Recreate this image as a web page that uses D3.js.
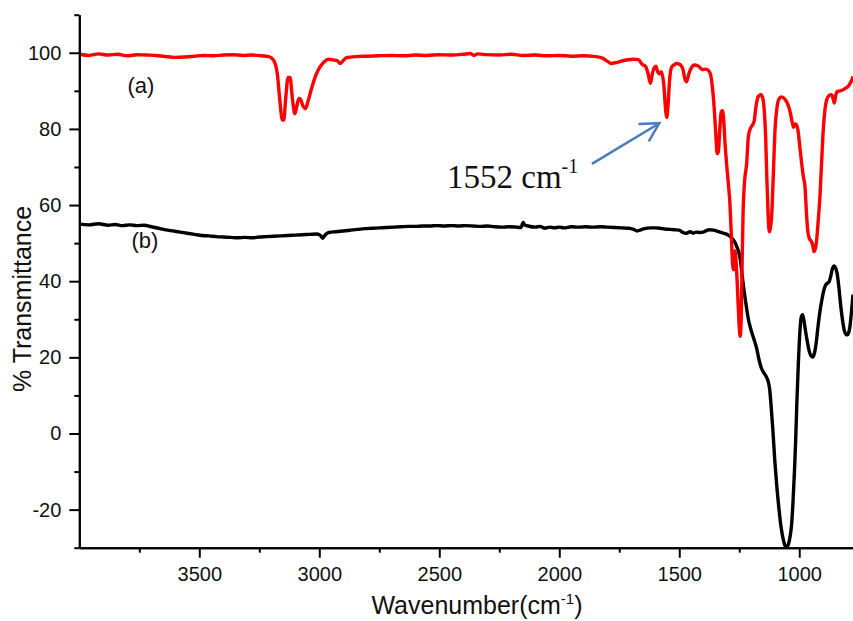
<!DOCTYPE html>
<html>
<head>
<meta charset="utf-8">
<script src="https://cdn.jsdelivr.net/npm/d3@7"></script>
<style>
  html, body { margin: 0; padding: 0; background: #fff; }
  svg { display: block; }
  .tick text { font-family: "Liberation Sans", Arial, sans-serif; }
</style>
</head>
<body>
<svg id="chart" width="853" height="621"></svg>
<script>
// FTIR spectra: wavenumber (cm-1) and % transmittance for samples (a) and (b)
const waveA = [4000,3960,3920,3880,3840,3800,3760,3720,3680,3640,3600,3560,3520,3480,3440,3400,3360,3320,3280,3240,3210,3190,3175,3165,3155,3148,3140,3130,3122,3112,3102,3095,3085,3078,3068,3058,3048,3035,3015,2997,2980,2962,2940,2925,2912,2900,2886,2850,2800,2750,2700,2650,2600,2550,2500,2450,2400,2370,2355,2340,2300,2250,2200,2150,2100,2050,2000,1950,1900,1850,1820,1800,1785,1765,1748,1720,1690,1670,1655,1640,1630,1620,1612,1605,1597,1590,1582,1575,1565,1556,1552,1547,1540,1532,1520,1511,1495,1484,1476,1469,1460,1448,1439,1421,1404,1390,1378,1370,1362,1355,1348,1342,1337,1331,1325,1320,1315,1309,1303,1296,1289,1283,1278,1274,1268,1262,1256,1250,1246,1242,1238,1234,1228,1219,1212,1203,1195,1188,1180,1170,1160,1153,1146,1140,1135,1130,1125,1120,1115,1108,1101,1093,1085,1075,1062,1050,1040,1030,1024,1018,1012,1005,998,990,983,976,970,965,958,950,944,939,933,928,922,914,907,900,893,886,875,865,859,854,848,842,830,817,805,796,788,780,776];
const transA = [99.6,99.3,99.7,99.4,99.6,99.2,99.5,99.4,99.3,99.0,98.8,98.9,99.1,99.3,99.2,99.4,99.5,99.3,99.4,99.2,99.0,98.0,94.5,88,82.5,82.3,88,93.5,93.5,88,84,85.5,88,87.8,86,85.3,87,90,94,96.3,97.6,98.3,98.1,97.9,97.2,98.0,98.7,99.0,99.1,99.2,99.3,99.2,99.4,99.3,99.5,99.4,99.6,99.8,99.3,99.7,99.5,99.4,99.6,99.3,99.4,99.2,99.3,99.1,99.2,99.0,98.6,97.8,97.2,97.4,97.7,98.1,98.3,98.2,97.0,96.4,94.5,92.0,94.5,96.0,96.5,95.0,94.5,95.0,92,84.5,83.0,86,93,96.2,96.9,97.2,96.8,95.5,93.0,92.4,94.5,96.2,96.8,96.5,95.6,95.7,95.3,94.4,91,86,79,73.5,74,80,84.5,84.8,82.5,76,71,66,60.5,52,44.7,43,48,44,36,28,25.5,30,45,58,66,71,78,80.2,81,82,86,88.6,89,88.3,85,78,67,58,53,54,57,68,79.7,85.5,87.8,88.4,88,86.8,85,82,80.4,81.3,81.1,79.5,75.5,71,67.5,64.8,58,53.5,51.2,50.5,49.5,47.8,48.5,50.5,55,62,71,79.7,85,87.6,88.8,89,88,86.8,88.8,89.8,90,90.3,90.8,91.2,92,93,93.8];

const waveB = [4000,3960,3920,3880,3850,3820,3790,3760,3730,3700,3670,3640,3610,3580,3550,3520,3490,3460,3430,3400,3370,3340,3310,3280,3250,3220,3190,3160,3130,3100,3070,3040,3010,2995,2985,2975,2960,2930,2900,2870,2840,2810,2780,2750,2720,2690,2660,2630,2600,2570,2540,2510,2480,2450,2420,2390,2360,2330,2300,2270,2240,2210,2180,2160,2150,2145,2130,2100,2080,2060,2040,2020,2000,1980,1950,1920,1890,1860,1830,1800,1770,1740,1710,1690,1675,1660,1645,1620,1600,1580,1560,1540,1520,1500,1485,1470,1455,1442,1430,1415,1400,1390,1375,1358,1340,1325,1310,1296,1285,1275,1268,1260,1252,1245,1238,1230,1222,1212,1200,1190,1178,1168,1158,1148,1138,1130,1123,1117,1110,1102,1094,1085,1076,1066,1058,1052,1046,1038,1032,1026,1020,1015,1010,1004,998,992,986,980,974,966,958,950,944,938,930,922,914,906,898,890,882,876,870,862,855,848,842,835,827,819,812,805,800,795,789,783,776];
const transB = [55.0,54.8,55.1,54.7,54.9,54.6,54.8,54.6,54.7,54.3,53.9,53.5,53.2,52.9,52.6,52.3,52.0,51.9,51.7,51.6,51.5,51.4,51.5,51.4,51.6,51.7,51.8,51.9,52.0,52.1,52.2,52.3,52.4,52.0,51.3,52.2,52.8,53.0,53.2,53.4,53.6,53.8,53.9,54.0,54.1,54.2,54.3,54.4,54.4,54.5,54.5,54.6,54.5,54.6,54.5,54.6,54.5,54.4,54.5,54.3,54.2,54.3,54.2,54.1,55.4,54.8,54.5,54.2,54.4,53.9,54.2,54.0,54.2,54.0,54.3,54.2,54.3,54.2,54.3,54.2,54.1,54.0,53.9,53.6,53.2,53.5,53.8,54.0,54.0,53.9,53.7,53.6,53.5,53.4,52.8,52.6,53.0,52.6,52.9,52.8,52.9,53.2,53.5,53.4,53.1,52.8,52.5,52.1,51.6,50.9,50.2,49.0,47.6,45.5,41.5,37.5,34,30,27.0,25.0,22.5,19.5,17.2,16.0,15.0,13.8,11.5,7,1,-7,-13.5,-19.5,-24.5,-28,-29.6,-29.9,-29.3,-27,-24,-18,-10,-2,8,18,26,30.5,31.2,29.5,27,24,21.5,20.3,20.1,20.8,23.5,28,32,35,37.5,39,39.5,39.8,41,43.2,44.0,43.4,42,38.5,33.5,29.5,27,26.0,25.9,26.3,28,31.5,36.5];

// Axis ticks
const xMajorTicks = [3500, 3000, 2500, 2000, 1500, 1000];
const xMinorTicks = [3750, 3250, 2750, 2250, 1750, 1250];
const yMajorTicks = [-20, 0, 20, 40, 60, 80, 100];
const yMinorTicks = [-30, -10, 10, 30, 50, 70, 90, 110];

// Annotation of the 1552 cm-1 band
const bandLabel = "1552";
const arrowTail = [1864, 70.8];
const arrowTip = [1583, 81.5];

const svg = d3.select("#chart");
const plotLeft = 79.3, plotRight = 853, plotTop = 14.7, plotBottom = 547.7;

const x = d3.scaleLinear().domain([4000, 776]).range([plotLeft, plotRight]);
const y = d3.scaleLinear().domain([-30, 110]).range([plotBottom, plotTop]);

const line = d3.line()
  .x(d => x(d[0]))
  .y(d => y(d[1]))
  .curve(d3.curveMonotoneX);

const seriesA = waveA.map((w, i) => [w, transA[i]]);
const seriesB = waveB.map((w, i) => [w, transB[i]]);

// Spectra
svg.append("path").datum(seriesB)
  .attr("d", line).attr("fill", "none")
  .attr("stroke", "#000").attr("stroke-width", 3.4)
  .attr("stroke-linejoin", "round");

svg.append("path").datum(seriesA)
  .attr("d", line).attr("fill", "none")
  .attr("stroke", "#ff0000").attr("stroke-width", 3.4)
  .attr("stroke-linejoin", "round");

// Axes
const plainNumber = d => String(d);
function styleAxis(g) {
  g.selectAll("path.domain").attr("stroke", "#000").attr("stroke-width", 2);
  g.selectAll(".tick line").attr("stroke", "#000").attr("stroke-width", 2);
  g.selectAll(".tick text").attr("fill", "#111").style("font-size", "20px");
}

svg.append("g").attr("transform", `translate(0,${plotBottom})`)
  .call(d3.axisBottom(x).tickValues(xMinorTicks).tickSize(5).tickSizeOuter(0).tickFormat(""))
  .call(styleAxis);
svg.append("g").attr("transform", `translate(0,${plotBottom})`)
  .call(d3.axisBottom(x).tickValues(xMajorTicks).tickSize(10).tickPadding(9).tickSizeOuter(0).tickFormat(plainNumber))
  .call(styleAxis);

svg.append("g").attr("transform", `translate(${plotLeft},0)`)
  .call(d3.axisLeft(y).tickValues(yMinorTicks).tickSize(5).tickSizeOuter(0).tickFormat(""))
  .call(styleAxis);
svg.append("g").attr("transform", `translate(${plotLeft},0)`)
  .call(d3.axisLeft(y).tickValues(yMajorTicks).tickSize(10).tickPadding(8).tickSizeOuter(0).tickFormat(plainNumber))
  .call(styleAxis);

// Axis titles
const xTitle = svg.append("text")
  .attr("x", 477).attr("y", 614)
  .attr("text-anchor", "middle")
  .style("font-family", "'Liberation Sans', Arial, sans-serif")
  .style("font-size", "25px").attr("fill", "#111");
xTitle.append("tspan").text("Wavenumber(cm");
xTitle.append("tspan").attr("dy", -10).style("font-size", "15px").text("-1");
xTitle.append("tspan").attr("dy", 10).text(")");

svg.append("text")
  .attr("transform", "translate(31,299) rotate(-90)")
  .attr("text-anchor", "middle")
  .style("font-family", "'Liberation Sans', Arial, sans-serif")
  .style("font-size", "25px").attr("fill", "#111")
  .text("% Transmittance");

// Sample labels
svg.append("text").attr("x", 141).attr("y", 93).attr("text-anchor", "middle")
  .style("font-family", "'Liberation Sans', Arial, sans-serif")
  .style("font-size", "22px").attr("fill", "#111").text("(a)");
svg.append("text").attr("x", 145).attr("y", 248).attr("text-anchor", "middle")
  .style("font-family", "'Liberation Sans', Arial, sans-serif")
  .style("font-size", "22px").attr("fill", "#111").text("(b)");

// Band annotation with arrow
const ann = svg.append("text").attr("x", 447).attr("y", 188)
  .style("font-family", "'Liberation Serif', 'Times New Roman', serif")
  .style("font-size", "33px").attr("fill", "#111");
ann.append("tspan").text(bandLabel + " cm");
ann.append("tspan").attr("dy", -15).style("font-size", "20px").text("-1");

const tx = x(arrowTail[0]), ty = y(arrowTail[1]);
const hx = x(arrowTip[0]), hy = y(arrowTip[1]);
const ang = Math.atan2(hy - ty, hx - tx);
const headLen = 21, headSpread = 0.5;
svg.append("line")
  .attr("x1", tx).attr("y1", ty).attr("x2", hx).attr("y2", hy)
  .attr("stroke", "#4a7ebb").attr("stroke-width", 2.5);
svg.append("path")
  .attr("d", d3.line()([
    [hx - headLen * Math.cos(ang - headSpread), hy - headLen * Math.sin(ang - headSpread)],
    [hx, hy],
    [hx - headLen * Math.cos(ang + headSpread), hy - headLen * Math.sin(ang + headSpread)]
  ]))
  .attr("fill", "none").attr("stroke", "#4a7ebb").attr("stroke-width", 2.5)
  .attr("stroke-linejoin", "miter");
</script>
</body>
</html>
